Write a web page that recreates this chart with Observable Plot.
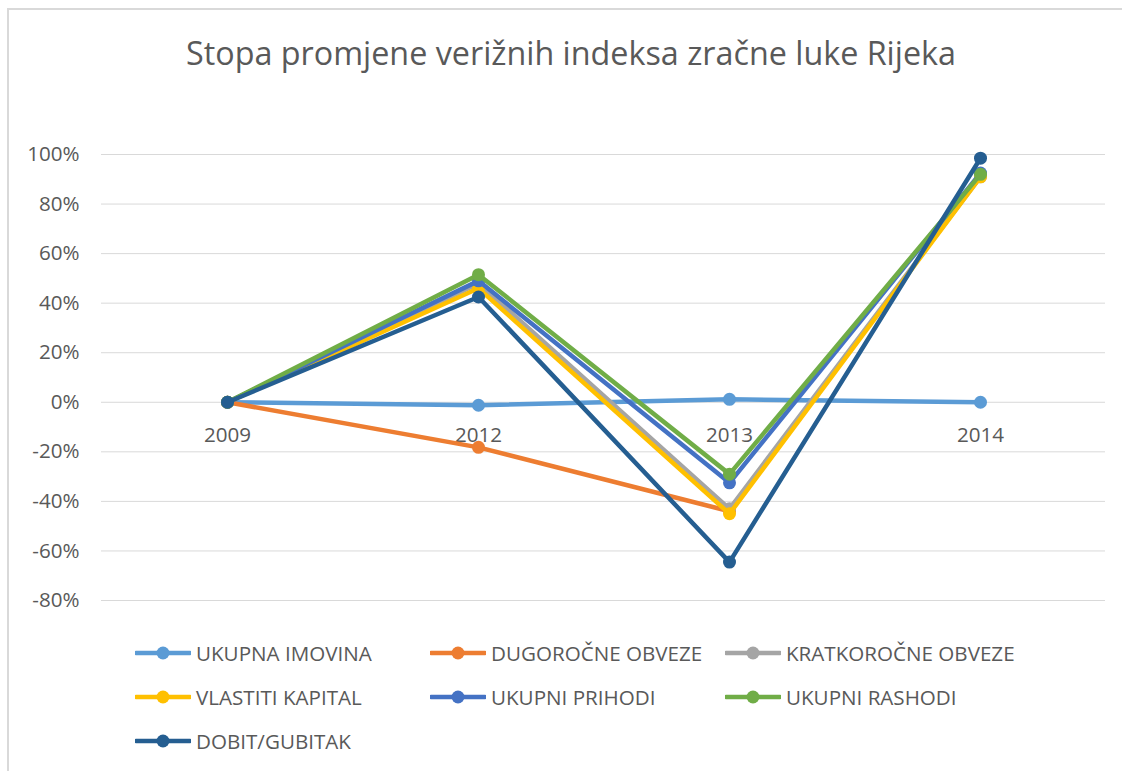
<!DOCTYPE html>
<html>
<head>
<meta charset="utf-8">
<script src="https://cdn.jsdelivr.net/npm/d3@7"></script>
<script src="https://cdn.jsdelivr.net/npm/@observablehq/plot@0.6"></script>
<style>
  body { margin: 0; background: #fff; width: 1122px; height: 771px; overflow: hidden; position: relative; font-family: "Open Sans", sans-serif; }
  #frame { position: absolute; left: 7px; top: 8px; width: 1140px; height: 790px; border: 2px solid #d9d9d9; box-sizing: border-box; }
  #title { position: absolute; left: 0; width: 1142px; top: 30px; text-align: center; font-size: 32.3px; line-height: 44px; color: #595959; }
  #chart { position: absolute; left: 0; top: 100px; }
  #legend { position: absolute; left: 0; top: 0; }
  .item { position: absolute; display: flex; align-items: center; height: 30px; font-size: 20.6px; color: #595959; white-space: nowrap; }
  .item svg { margin-right: 5px; }
</style>
</head>
<body>
<div id="frame"></div>
<div id="title">Stopa promjene verižnih indeksa zračne luke Rijeka</div>
<div id="chart"></div>
<div id="legend"></div>
<script>
const years = ["2009", "2012", "2013", "2014"];
const seriesNames = ["UKUPNA IMOVINA", "DUGOROČNE OBVEZE", "KRATKOROČNE OBVEZE", "VLASTITI KAPITAL", "UKUPNI PRIHODI", "UKUPNI RASHODI", "DOBIT/GUBITAK"];
const colors = ["#5B9BD5", "#ED7D31", "#A5A5A5", "#FFC000", "#4472C4", "#70AD47", "#255E91"];
const ukupnaImovina = [0, -1.2, 1.2, 0];
const dugorocneObveze = [0, -18.2, -44, null];
const kratkorocneObveze = [0, 48, -43, 91];
const vlastitiKapital = [0, 46, -45, 91];
const ukupniPrihodi = [0, 49, -32.5, 92.5];
const ukupniRashodi = [0, 51.5, -29, 92];
const dobitGubitak = [0, 42.5, -64.5, 98.5];
const yTicks = [-80, -60, -40, -20, 0, 20, 40, 60, 80, 100];

const values = [ukupnaImovina, dugorocneObveze, kratkorocneObveze, vlastitiKapital, ukupniPrihodi, ukupniRashodi, dobitGubitak];

const marks = [
  Plot.gridY(yTicks, {stroke: "#d9d9d9", strokeOpacity: 1, strokeWidth: 1}),
  Plot.axisY(yTicks, {tickSize: 0, tickPadding: 22, tickFormat: d => d + "%", fontSize: 20.6, fill: "#595959", label: null}),
  Plot.text(years, {x: d => d, y: () => 0, dy: 33, fontSize: 20.6, fill: "#595959"})
];
values.forEach((vals, i) => {
  const data = years.map((yr, j) => ({year: yr, value: vals[j]})).filter(d => d.value != null);
  marks.push(Plot.line(data, {x: "year", y: "value", stroke: colors[i], strokeWidth: 4.5, strokeLinejoin: "round"}));
  marks.push(Plot.dot(data, {x: "year", y: "value", fill: colors[i], r: 6.5, stroke: "none"}));
});

const chart = Plot.plot({
  width: 1122,
  height: 520,
  marginTop: 54,
  marginBottom: 20,
  marginLeft: 101,
  marginRight: 17,
  style: {fontFamily: "Open Sans, sans-serif", color: "#595959", background: "transparent"},
  x: {type: "point", domain: years, padding: 0.5, axis: null},
  y: {domain: [-80, 100], axis: null},
  marks
});
document.getElementById("chart").appendChild(chart);

const legendPos = [[135, 653], [430, 653], [725, 653], [135, 697], [430, 697], [725, 697], [135, 741]];
const legend = document.getElementById("legend");
seriesNames.forEach((name, i) => {
  const div = document.createElement("div");
  div.className = "item";
  div.style.left = legendPos[i][0] + "px";
  div.style.top = (legendPos[i][1] - 15) + "px";
  div.innerHTML = `<svg width="56" height="20"><line x1="1" x2="55" y1="10" y2="10" stroke="${colors[i]}" stroke-width="4.5" stroke-linecap="round"/><circle cx="28" cy="10" r="6.5" fill="${colors[i]}"/></svg><span>${name}</span>`;
  legend.appendChild(div);
});
</script>
</body>
</html>
